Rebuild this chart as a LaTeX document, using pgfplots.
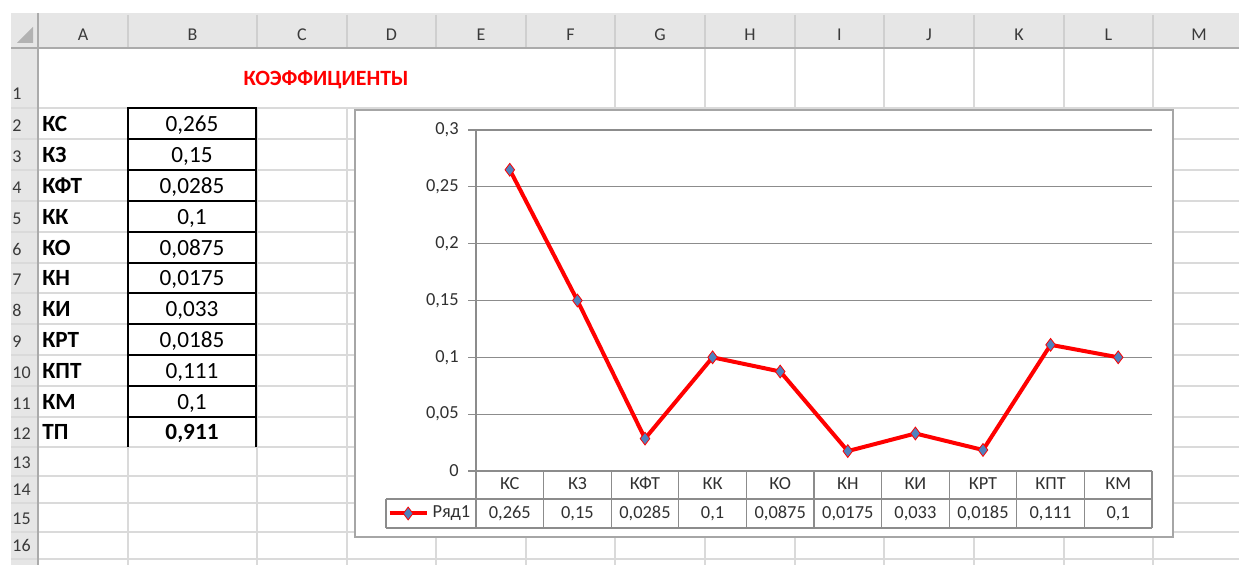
\documentclass[border=0pt]{standalone}
\usepackage{fontspec}
\setmainfont{Carlito}
\usepackage{pgfplots}
\pgfplotsset{compat=1.18}
\definecolor{sheetgrid}{HTML}{DADADA}
\definecolor{headbg}{HTML}{E6E6E6}
\definecolor{headsep}{HTML}{CFCFCF}
\definecolor{headline}{HTML}{ABABAB}
\definecolor{headtext}{HTML}{3A3A3A}
\definecolor{chartgrid}{HTML}{8C8C8C}
\definecolor{chartborder}{HTML}{A6A6A6}
\definecolor{markblue}{HTML}{4F81BD}
\definecolor{charttext}{HTML}{303030}
\newcommand{\cellfont}{\fontsize{11.6}{13}\selectfont}
\newcommand{\headfont}{\fontsize{9}{10}\selectfont}
\newcommand{\chartfont}{\fontsize{9.2}{10}\selectfont}
\begin{document}
\begin{tikzpicture}[x=0.5pt,y=-0.5pt]
\path[use as bounding box] (0,0) rectangle (1239,565);
% header backgrounds
\fill[headbg] (11,13) rectangle (1239,48);
\fill[headbg] (11,48) rectangle (38,565);
\fill[black!30] (17,43) -- (33,43) -- (33,27) -- cycle;
% sheet grid
\foreach \xx in {128,257,347,436,526,615,705,795,884,974,1064,1153}
  \draw[sheetgrid, line width=0.6pt] (\xx,108) -- (\xx,565);
\foreach \xx in {615,705,795,884,974,1064,1153}
  \draw[sheetgrid, line width=0.6pt] (\xx,48) -- (\xx,108);
\foreach \xx in {128,257,347,436,526,615,705,795,884,974,1064,1153}
  \draw[headsep, line width=0.6pt] (\xx,15) -- (\xx,48);
\foreach \yy in {108,139,170,201,232,263,293,324,355,386,417,447,476,503,532,559}
  \draw[sheetgrid, line width=0.6pt] (11,\yy) -- (1239,\yy);
\draw[headline, line width=0.6pt] (11,48) -- (1239,48);
\draw[headline, line width=0.6pt] (38,13) -- (38,565);
% column letters
\foreach \cx/\cl in {83/A,192.5/B,302/C,391.5/D,481/E,570.5/F,660/G,750/H,839.5/I,929/J,1019/K,1108.5/L,1199/M}
  \node[anchor=base, inner sep=0pt, text=headtext, font=\headfont] at (\cx,41) {\cl};
% row numbers
\foreach \ry/\rn in {100/1,132/2,163/3,194/4,225/5,256/6,286/7,317/8,348/9,379/10,410/11,440/12,469/13,496/14,525/15,552/16}
  \node[anchor=base west, inner sep=0pt, text=headtext, font=\headfont] at (12,\ry) {\rn};
% title
\node[text=red, font=\fontsize{10.9}{12}\selectfont\bfseries, inner sep=0pt] at (326,80) {КОЭФФИЦИЕНТЫ};
% cells
\foreach \ry/\lab/\val in {132/КС/{0,265},163/КЗ/{0,15},194/КФТ/{0,0285},225/КК/{0,1},256/КО/{0,0875},286/КН/{0,0175},317/КИ/{0,033},348/КРТ/{0,0185},379/КПТ/{0,111},410/КМ/{0,1}}{
  \node[anchor=base west, inner sep=0pt, font=\cellfont\bfseries] at (42,\ry) {\lab};
  \node[anchor=base, inner sep=0pt, font=\cellfont] at (192,\ry) {\val};
}
\node[anchor=base west, inner sep=0pt, font=\cellfont\bfseries] at (42,440) {ТП};
\node[anchor=base, inner sep=0pt, font=\cellfont\bfseries] at (192,440) {0,911};
% thick borders in column B
\foreach \yy in {108,139,170,201,232,263,293,324,355,386,417}
  \draw[black, line width=1pt] (127,\yy) -- (257,\yy);
\draw[black, line width=1pt] (128,107.5) -- (128,447);
\draw[black, line width=1pt] (256,107.5) -- (256,447);
% chart area
\draw[chartborder, line width=0.75pt, fill=white] (355,110) rectangle (1173,537);
\begin{axis}[
  at={(238pt,-235.5pt)}, anchor=south west,
  scale only axis, width=338pt, height=170.5pt,
  xmin=0, xmax=10, ymin=0, ymax=0.3,
  axis x line=none,
  axis y line*=left,
  y axis line style={chartgrid, line width=0.6pt},
  ytick={0,0.05,0.1,0.15,0.2,0.25,0.3},
  yticklabels={0,{0,05},{0,1},{0,15},{0,2},{0,25},{0,3}},
  tick align=outside, major tick length=4pt,
  ytick style={chartgrid, line width=0.6pt},
  ymajorgrids, grid style={chartgrid, line width=0.6pt},
  yticklabel style={font=\chartfont, text=charttext, inner sep=0pt, anchor=east, xshift=-4.5pt},
  clip=false,
  legend style={at={(axis description cs:-0.0666,-0.1246)}, anchor=center, draw=none, fill=none, inner sep=0pt, font=\chartfont, text=charttext},
  legend image code/.code={\draw[mark repeat=2,mark phase=2,#1] plot coordinates {(0pt,0pt)(9.25pt,0pt)(18.5pt,0pt)};},
]
\addplot[red, line width=2pt, mark=diamond*, mark size=3.2pt, mark options={fill=markblue, draw=red, line width=0.4pt}]
  coordinates {(0.5,0.265)(1.5,0.15)(2.5,0.0285)(3.5,0.1)(4.5,0.0875)(5.5,0.0175)(6.5,0.033)(7.5,0.0185)(8.5,0.111)(9.5,0.1)};
\addlegendentry{Ряд1}
\end{axis}
% data table
\draw[chartgrid, line width=0.6pt] (476,471) -- (1152,471);
\draw[chartgrid, line width=0.6pt] (386,499) -- (1152,499);
\draw[chartgrid, line width=0.6pt] (386,528) -- (1152,528);
\draw[chartgrid, line width=0.6pt] (386,499) -- (386,528);
\foreach \k in {0,...,10}
  \draw[chartgrid, line width=0.6pt] ({476+67.6*\k},471) -- ({476+67.6*\k},528);
\foreach \k/\c/\v in {0/КС/{0,265},1/КЗ/{0,15},2/КФТ/{0,0285},3/КК/{0,1},4/КО/{0,0875},5/КН/{0,0175},6/КИ/{0,033},7/КРТ/{0,0185},8/КПТ/{0,111},9/КМ/{0,1}}{
  \node[anchor=base, inner sep=0pt, font=\chartfont, text=charttext] at ({476+67.6*(\k+0.5)},490) {\c};
  \node[anchor=base, inner sep=0pt, font=\chartfont, text=charttext] at ({476+67.6*(\k+0.5)},519) {\v};
}
\end{tikzpicture}
\end{document}
